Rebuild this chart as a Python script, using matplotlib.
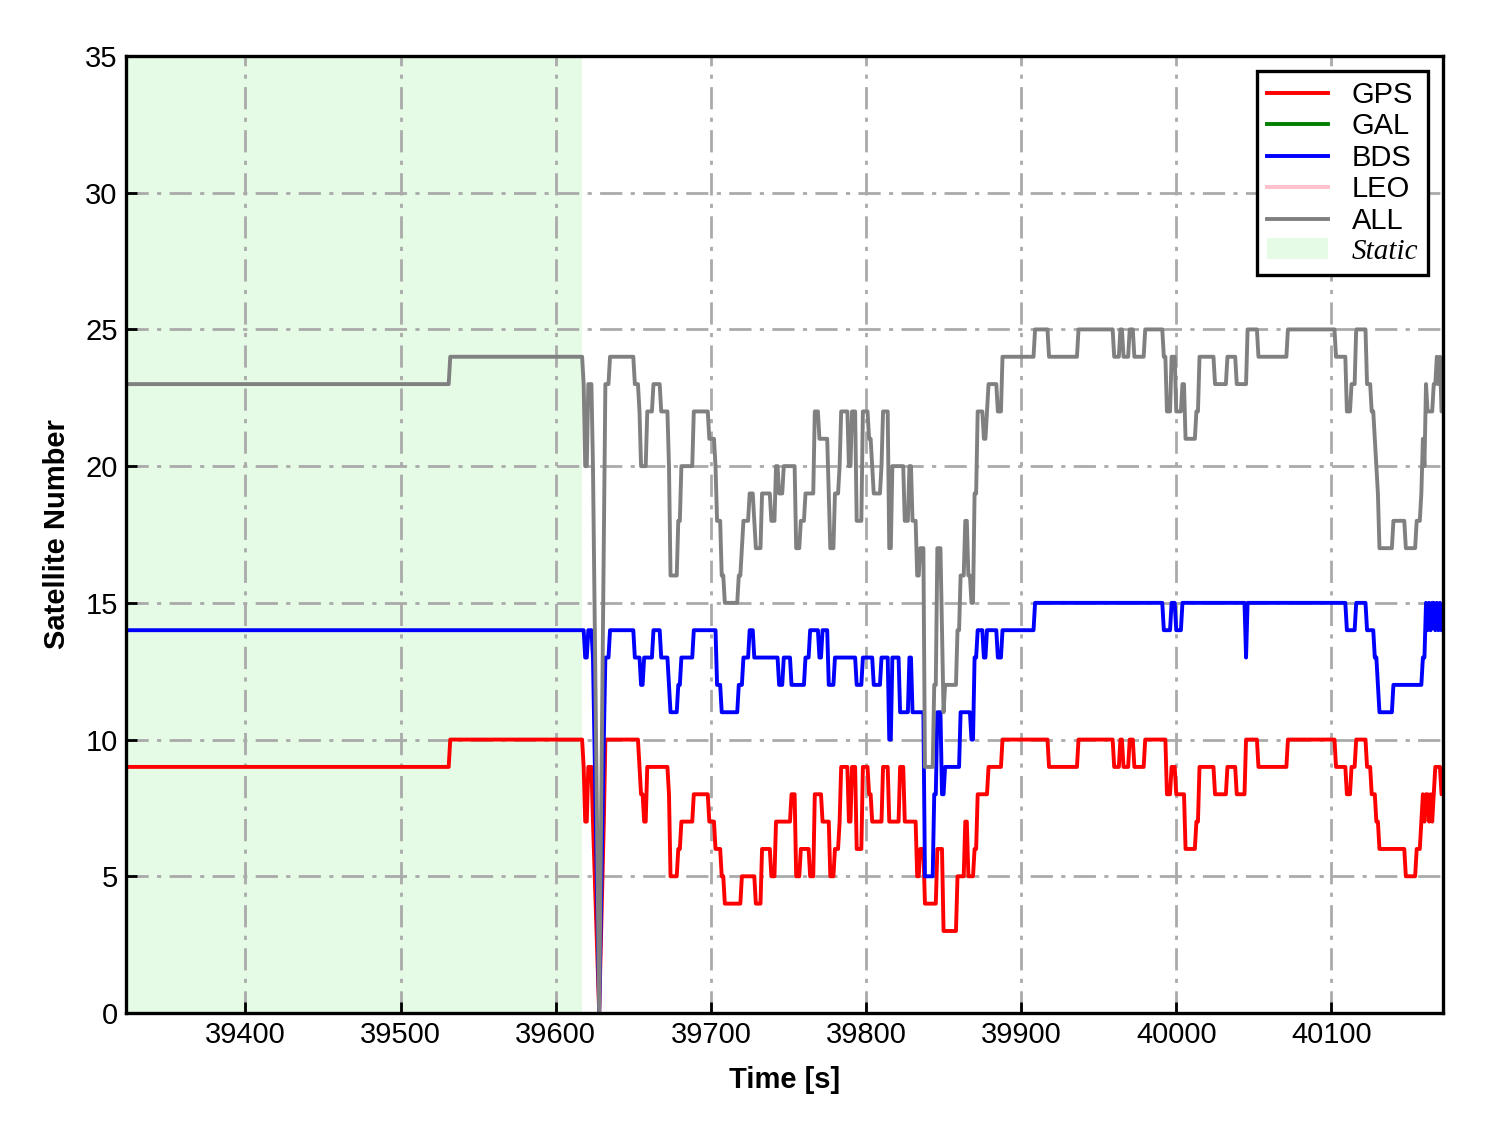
import matplotlib
matplotlib.use("Agg")
import matplotlib.pyplot as plt
from matplotlib.patches import Patch

plt.rcParams['font.family'] = ['Liberation Sans', 'DejaVu Sans']

# segment start times [s]; each value holds until the next start (None = no data)
seg_start = [39323, 39532, 39618, 39619, 39621, 39624, 39625, 39628, 39629, 39631,
             39632, 39635, 39651, 39654, 39655, 39657, 39659, 39663, 39668, 39673,
             39674, 39679, 39681, 39689, 39699, 39703, 39704, 39707, 39709, 39718,
             39720, 39721, 39725, 39728, 39729, 39733, 39739, 39742, 39744, 39747,
             39752, 39755, 39758, 39761, 39764, 39767, 39770, 39772, 39776, 39777,
             39780, 39783, 39784, 39789, 39791, 39794, 39798, 39802, 39804, 39805,
             39810, 39811, 39815, 39817, 39822, 39825, 39828, 39830, 39833, 39835,
             39838, 39844, 39846, 39849, 39850, 39851, 39859, 39861, 39864, 39866,
             39868, 39870, 39872, 39876, 39878, 39879, 39885, 39888, 39909, 39918,
             39937, 39960, 39964, 39966, 39970, 39973, 39980, 39992, 39994, 39997,
             40000, 40004, 40006, 40013, 40015, 40025, 40033, 40039, 40045, 40046,
             40053, 40072, 40103, 40110, 40113, 40116, 40123, 40126, 40128, 40129,
             40130, 40131, 40140, 40148, 40155, 40158, 40159, 40160, 40161, 40162,
             40163, 40164, 40165, 40166, 40167, 40168, 40169, 40170, 40171]
t_end = 40172

gps = [9, 10, 9, 7, 9, 7, None, 0, None, 7,
       10, 10, 10, 9, 8, 7, 9, 9, 9, 8,
       5, 6, 7, 8, 7, 6, 6, 5, 4, 4,
       5, 5, 5, 5, 4, 6, 5, 7, 7, 7,
       8, 5, 6, 6, 5, 8, 8, 7, 7, 5,
       6, 7, 9, 7, 9, 6, 9, 8, 7, 7,
       7, 9, 7, 7, 9, 7, 7, 7, 5, 6,
       4, 4, 6, 6, 3, 3, 5, 5, 7, 5,
       5, 6, 8, 8, 8, 9, 9, 10, 10, 9,
       10, 9, 10, 9, 10, 9, 10, 10, 8, 9,
       8, 8, 6, 7, 9, 8, 9, 8, 10, 10,
       9, 10, 9, 8, 9, 10, 9, 8, 8, 7,
       7, 6, 6, 5, 6, 7, 8, 7, 8, 8,
       7, 8, 7, 8, 9, 9, 9, 9, 8]

bds = [14, 14, 14, 13, 14, 13, None, 0, None, 10,
       13, 14, 13, 13, 12, 13, 13, 14, 13, 12,
       11, 12, 13, 14, 14, 14, 12, 11, 11, 12,
       12, 13, 14, 13, 13, 13, 13, 13, 12, 13,
       12, 12, 12, 13, 14, 14, 13, 14, 12, 12,
       13, 13, 13, 13, 13, 12, 13, 13, 13, 12,
       13, 13, 10, 13, 11, 11, 13, 11, 11, 11,
       5, 8, 11, 8, 8, 9, 9, 11, 11, 11,
       10, 13, 14, 13, 14, 14, 13, 14, 15, 15,
       15, 15, 15, 15, 15, 15, 15, 14, 14, 15,
       14, 15, 15, 15, 15, 15, 15, 15, 13, 15,
       15, 15, 15, 14, 14, 15, 14, 14, 13, 13,
       12, 11, 12, 12, 12, 12, 13, 13, 15, 14,
       15, 14, 15, 15, 14, 15, 14, 15, 14]

all_sats = [23, 24, 23, 20, 23, 20, None, 0, None, 17,
            23, 24, 23, 22, 20, 20, 22, 23, 22, 20,
            16, 18, 20, 22, 21, 20, 18, 16, 15, 16,
            17, 18, 19, 18, 17, 19, 18, 20, 19, 20,
            20, 17, 18, 19, 19, 22, 21, 21, 19, 17,
            19, 20, 22, 20, 22, 18, 22, 21, 20, 19,
            20, 22, 17, 20, 20, 18, 20, 18, 16, 17,
            9, 12, 17, 14, 11, 12, 14, 16, 18, 16,
            15, 19, 22, 21, 22, 23, 22, 24, 25, 24,
            25, 24, 25, 24, 25, 24, 25, 24, 22, 24,
            22, 23, 21, 22, 24, 23, 24, 23, 23, 25,
            24, 25, 24, 22, 23, 25, 23, 22, 21, 20,
            19, 17, 18, 17, 18, 19, 21, 20, 23, 22,
            22, 22, 22, 23, 23, 24, 23, 24, 22]

static_end = 39617


def to_line(vals):
    xs, ys = [], []
    for i, v in enumerate(vals):
        if v is None:
            continue
        a = seg_start[i]
        b = seg_start[i + 1] - 1 if i + 1 < len(seg_start) else t_end
        xs.append(a)
        ys.append(v)
        if b > a:
            xs.append(b)
            ys.append(v)
    return xs, ys


fig, ax = plt.subplots(figsize=(14.88, 11.33), dpi=100)
fig.subplots_adjust(left=0.0847, right=0.9698, top=0.9506, bottom=0.1059)

ax.axvspan(seg_start[0], static_end, color='#e6fbe6', lw=0, zorder=0)

lw = 2.8
ax.plot(*to_line(gps), color='red', lw=lw, label='GPS')
ax.plot([], [], color='green', lw=lw, label='GAL')
ax.plot(*to_line(bds), color='blue', lw=lw, label='BDS')
ax.plot([], [], color='pink', lw=lw, label='LEO')
ax.plot(*to_line(all_sats), color='gray', lw=lw, label='ALL')

ax.set_xlim(seg_start[0], t_end)
ax.set_ylim(0, 35)
ax.set_xticks(range(39400, 40101, 100))
ax.set_yticks(range(0, 36, 5))
ax.set_axisbelow(True)
ax.grid(True, color='#aaaaaa', lw=2.0, ls=(0, (8, 3, 1.5, 3)))
ax.tick_params(direction='in', length=8, width=2, labelsize=21, pad=6)
for s in ax.spines.values():
    s.set_linewidth(2.4)

ax.set_xlabel('Time [s]', fontsize=21, fontweight='bold', labelpad=12)
ax.set_ylabel('Satellite Number', fontsize=21, fontweight='bold', labelpad=10)

handles, labels = ax.get_legend_handles_labels()
handles.append(Patch(facecolor='#e6fbe6', edgecolor='none'))
labels.append('Static')
leg = ax.legend(handles, labels, loc='upper right', fontsize=21, frameon=True,
                fancybox=False, framealpha=1, edgecolor='black',
                handlelength=2.1, labelspacing=0.12, borderpad=0.35,
                handletextpad=0.8, borderaxespad=0.5)
leg.get_frame().set_linewidth(2.4)
st = leg.get_texts()[-1]
st.set_fontfamily(['Liberation Serif', 'DejaVu Serif'])
st.set_fontstyle('italic')

fig.savefig('out.png', dpi=100)
